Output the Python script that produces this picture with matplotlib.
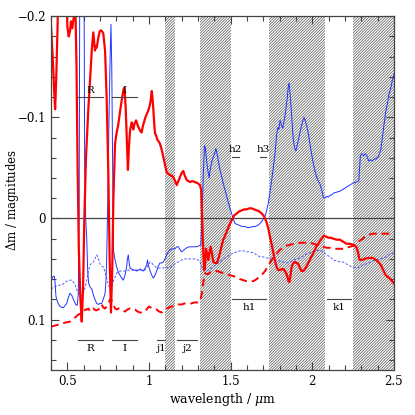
import matplotlib
matplotlib.use('Agg')
import matplotlib.pyplot as plt
from matplotlib.ticker import MultipleLocator, FuncFormatter

# red solid (thick)
red_wl = [0.400, 0.410, 0.418, 0.425, 0.432, 0.440, 0.447, 0.490, 0.500, 0.508, 0.516, 0.522, 0.530,
          0.540, 0.548, 0.556, 0.562, 0.570, 0.580, 0.588, 0.596, 0.604, 0.614, 0.628, 0.643, 0.651,
          0.659, 0.664, 0.669, 0.675, 0.680, 0.690, 0.698, 0.706, 0.713, 0.720, 0.731, 0.741, 0.751,
          0.759, 0.767, 0.775, 0.782, 0.792, 0.802, 0.812, 0.822, 0.833, 0.842, 0.847, 0.852, 0.857,
          0.864, 0.871, 0.877, 0.884, 0.894, 0.899, 0.904, 0.912, 0.921, 0.931, 0.945, 0.955, 0.962,
          0.969, 0.978, 0.986, 0.994, 1.002, 1.010, 1.017, 1.022, 1.027, 1.032, 1.037, 1.044, 1.051,
          1.060, 1.067, 1.078, 1.088, 1.098, 1.108, 1.118, 1.129, 1.140, 1.149, 1.160, 1.170, 1.180,
          1.190, 1.200, 1.210, 1.220, 1.231, 1.241, 1.251, 1.266, 1.282, 1.297, 1.312, 1.320, 1.326,
          1.333, 1.339, 1.344, 1.349, 1.356, 1.363, 1.370, 1.378, 1.386, 1.394, 1.405, 1.415, 1.425,
          1.435, 1.445, 1.455, 1.466, 1.476, 1.491, 1.506, 1.522, 1.537, 1.553, 1.568, 1.583, 1.598,
          1.614, 1.629, 1.645, 1.660, 1.675, 1.690, 1.701, 1.711, 1.721, 1.731, 1.741, 1.752, 1.762,
          1.772, 1.782, 1.792, 1.803, 1.813, 1.823, 1.833, 1.840, 1.847, 1.855, 1.860, 1.867, 1.874,
          1.884, 1.894, 1.905, 1.915, 1.925, 1.935, 1.946, 1.956, 1.966, 1.976, 1.991, 2.007, 2.022,
          2.037, 2.048, 2.058, 2.072, 2.085, 2.098, 2.114, 2.129, 2.150, 2.170, 2.190, 2.210, 2.230,
          2.250, 2.270, 2.280, 2.290, 2.305, 2.320, 2.340, 2.355, 2.370, 2.380, 2.390, 2.405, 2.420,
          2.435, 2.450, 2.465, 2.480, 2.490, 2.500]
red_dm = [-0.19, -0.16, -0.13, -0.108, -0.14, -0.19, -0.26, -0.26, -0.19, -0.18, -0.185, -0.195, -0.188,
          -0.20, -0.22, -0.15, -0.06, 0.03, 0.08, 0.102, 0.07, 0.00, -0.06, -0.107, -0.149, -0.17,
          -0.184, -0.175, -0.166, -0.170, -0.169, -0.179, -0.185, -0.186, -0.185, -0.183, -0.166, -0.117, -0.044,
          0.04, 0.093, 0.05, -0.02, -0.074, -0.085, -0.093, -0.105, -0.117, -0.126, -0.129, -0.124, -0.110,
          -0.08, -0.048, -0.07, -0.087, -0.095, -0.092, -0.088, -0.094, -0.097, -0.092, -0.087, -0.085, -0.091,
          -0.095, -0.100, -0.103, -0.106, -0.110, -0.116, -0.126, -0.118, -0.107, -0.094, -0.084, -0.082, -0.078,
          -0.076, -0.074, -0.068, -0.061, -0.053, -0.046, -0.044, -0.043, -0.042, -0.041, -0.037, -0.033, -0.037,
          -0.041, -0.045, -0.047, -0.042, -0.038, -0.037, -0.036, -0.037, -0.036, -0.035, -0.033, -0.028, 0.00,
          0.035, 0.051, 0.045, 0.030, 0.035, 0.041, 0.034, 0.028, 0.035, 0.043, 0.044, 0.044, 0.040,
          0.034, 0.027, 0.021, 0.017, 0.013, 0.007, 0.002, -0.003, -0.005, -0.007, -0.008, -0.009, -0.009,
          -0.010, -0.010, -0.009, -0.008, -0.007, -0.005, -0.003, 0.000, 0.004, 0.010, 0.018, 0.026, 0.034,
          0.042, 0.048, 0.051, 0.051, 0.050, 0.050, 0.052, 0.054, 0.057, 0.062, 0.063, 0.056, 0.048,
          0.044, 0.043, 0.044, 0.045, 0.049, 0.052, 0.052, 0.050, 0.047, 0.044, 0.039, 0.034, 0.029,
          0.025, 0.022, 0.020, 0.017, 0.018, 0.019, 0.019, 0.020, 0.021, 0.021, 0.023, 0.025, 0.025,
          0.026, 0.028, 0.033, 0.041, 0.041, 0.040, 0.039, 0.039, 0.039, 0.040, 0.041, 0.043, 0.046,
          0.051, 0.056, 0.058, 0.060, 0.062, 0.064]

# red dashed
redd_wl = [0.400, 0.445, 0.486, 0.516, 0.547, 0.567, 0.583, 0.598, 0.609, 0.619, 0.629, 0.639, 0.649,
           0.659, 0.675, 0.690, 0.700, 0.710, 0.720, 0.731, 0.741, 0.751, 0.759, 0.767, 0.775, 0.782,
           0.792, 0.802, 0.812, 0.822, 0.837, 0.853, 0.868, 0.884, 0.899, 0.914, 0.930, 0.945, 0.960,
           0.976, 0.990, 1.000, 1.010, 1.017, 1.032, 1.047, 1.062, 1.078, 1.093, 1.108, 1.124, 1.139,
           1.155, 1.170, 1.185, 1.200, 1.220, 1.240, 1.260, 1.280, 1.300, 1.312, 1.323, 1.333, 1.343,
           1.353, 1.363, 1.378, 1.394, 1.415, 1.435, 1.455, 1.476, 1.496, 1.517, 1.537, 1.558, 1.578,
           1.598, 1.619, 1.639, 1.660, 1.680, 1.695, 1.711, 1.726, 1.741, 1.752, 1.762, 1.782, 1.803,
           1.823, 1.843, 1.864, 1.884, 1.905, 1.925, 1.946, 1.966, 1.986, 2.007, 2.027, 2.048, 2.068,
           2.089, 2.109, 2.129, 2.150, 2.170, 2.190, 2.210, 2.230, 2.250, 2.270, 2.290, 2.310, 2.330,
           2.350, 2.370, 2.390, 2.420, 2.450, 2.480, 2.500]
redd_dm = [0.107, 0.105, 0.103, 0.102, 0.098, 0.095, 0.094, 0.093, 0.090, 0.090, 0.089, 0.092, 0.090,
           0.089, 0.091, 0.090, 0.088, 0.085, 0.088, 0.089, 0.087, 0.084, 0.081, 0.079, 0.083, 0.085,
           0.089, 0.090, 0.089, 0.089, 0.091, 0.092, 0.090, 0.089, 0.090, 0.090, 0.092, 0.093, 0.093,
           0.092, 0.089, 0.087, 0.088, 0.089, 0.090, 0.090, 0.092, 0.093, 0.091, 0.089, 0.088, 0.087,
           0.086, 0.085, 0.085, 0.085, 0.084, 0.084, 0.084, 0.083, 0.083, 0.082, 0.075, 0.063, 0.054,
           0.055, 0.055, 0.053, 0.052, 0.052, 0.053, 0.054, 0.055, 0.056, 0.057, 0.058, 0.060, 0.061,
           0.062, 0.062, 0.062, 0.060, 0.057, 0.055, 0.052, 0.048, 0.044, 0.041, 0.038, 0.035, 0.031,
           0.029, 0.027, 0.026, 0.025, 0.025, 0.024, 0.024, 0.024, 0.024, 0.025, 0.026, 0.027, 0.028,
           0.029, 0.029, 0.030, 0.030, 0.030, 0.030, 0.029, 0.028, 0.027, 0.025, 0.022, 0.020, 0.017,
           0.016, 0.015, 0.015, 0.015, 0.015, 0.015, 0.015]

# blue solid (thin)
blue_wl = [0.400, 0.410, 0.420, 0.425, 0.430, 0.440, 0.455, 0.466, 0.476, 0.486, 0.496, 0.506, 0.516,
           0.527, 0.537, 0.551, 0.560, 0.567, 0.572, 0.577, 0.601, 0.606, 0.612, 0.619, 0.624, 0.630,
           0.640, 0.650, 0.660, 0.669, 0.680, 0.690, 0.700, 0.710, 0.720, 0.731, 0.737, 0.741, 0.748,
           0.755, 0.762, 0.767, 0.772, 0.777, 0.782, 0.792, 0.802, 0.812, 0.822, 0.833, 0.843, 0.853,
           0.863, 0.868, 0.873, 0.878, 0.884, 0.894, 0.904, 0.914, 0.925, 0.935, 0.945, 0.955, 0.965,
           0.976, 0.986, 0.991, 0.996, 1.007, 1.017, 1.027, 1.037, 1.047, 1.057, 1.067, 1.078, 1.088,
           1.098, 1.108, 1.118, 1.129, 1.144, 1.159, 1.170, 1.180, 1.190, 1.200, 1.215, 1.231, 1.246,
           1.261, 1.276, 1.292, 1.307, 1.318, 1.325, 1.333, 1.340, 1.345, 1.353, 1.361, 1.369, 1.373,
           1.378, 1.386, 1.394, 1.402, 1.410, 1.418, 1.425, 1.435, 1.446, 1.456, 1.466, 1.476, 1.486,
           1.496, 1.506, 1.517, 1.527, 1.542, 1.558, 1.573, 1.588, 1.603, 1.619, 1.634, 1.649, 1.665,
           1.680, 1.695, 1.711, 1.721, 1.731, 1.741, 1.752, 1.762, 1.772, 1.782, 1.790, 1.796, 1.803,
           1.811, 1.819, 1.826, 1.833, 1.840, 1.847, 1.853, 1.858, 1.865, 1.870, 1.877, 1.884, 1.892,
           1.900, 1.907, 1.915, 1.925, 1.935, 1.943, 1.950, 1.958, 1.966, 1.976, 1.986, 1.996, 2.007,
           2.017, 2.027, 2.037, 2.048, 2.058, 2.068, 2.078, 2.088, 2.098, 2.109, 2.119, 2.129, 2.150,
           2.170, 2.190, 2.210, 2.230, 2.250, 2.270, 2.285, 2.295, 2.305, 2.315, 2.325, 2.335, 2.345,
           2.355, 2.365, 2.375, 2.390, 2.405, 2.420, 2.430, 2.440, 2.450, 2.460, 2.470, 2.480, 2.490,
           2.500]
blue_dm = [0.061, 0.058, 0.057, 0.064, 0.077, 0.083, 0.087, 0.088, 0.088, 0.086, 0.084, 0.078, 0.074,
           0.076, 0.080, 0.085, 0.086, 0.075, 0.00, -0.30, -0.30, -0.05, 0.00, 0.021, 0.050, 0.064,
           0.068, 0.070, 0.076, 0.080, 0.084, 0.085, 0.084, 0.084, 0.080, 0.074, 0.060, 0.038, -0.02,
           -0.10, -0.16, -0.192, -0.15, -0.06, 0.031, 0.041, 0.048, 0.053, 0.056, 0.059, 0.061, 0.056,
           0.048, 0.040, 0.036, 0.043, 0.049, 0.050, 0.051, 0.051, 0.052, 0.051, 0.050, 0.051, 0.052,
           0.049, 0.046, 0.041, 0.046, 0.052, 0.056, 0.059, 0.056, 0.052, 0.047, 0.044, 0.044, 0.043,
           0.040, 0.036, 0.033, 0.031, 0.030, 0.030, 0.028, 0.028, 0.031, 0.033, 0.031, 0.029, 0.028,
           0.028, 0.028, 0.028, 0.027, 0.026, 0.00, -0.045, -0.072, -0.070, -0.057, -0.047, -0.040, -0.046,
           -0.051, -0.057, -0.061, -0.064, -0.069, -0.063, -0.057, -0.048, -0.041, -0.034, -0.028, -0.022, -0.016,
           -0.010, -0.005, 0.001, 0.005, 0.006, 0.007, 0.008, 0.008, 0.009, 0.009, 0.008, 0.008, 0.007,
           0.005, 0.002, -0.002, -0.008, -0.015, -0.026, -0.038, -0.051, -0.064, -0.083, -0.090, -0.088, -0.097,
           -0.093, -0.089, -0.095, -0.101, -0.110, -0.119, -0.130, -0.134, -0.122, -0.110, -0.093, -0.078, -0.070,
           -0.067, -0.072, -0.078, -0.085, -0.092, -0.097, -0.100, -0.096, -0.092, -0.084, -0.074, -0.064, -0.054,
           -0.047, -0.041, -0.037, -0.034, -0.028, -0.021, -0.020, -0.022, -0.021, -0.023, -0.023, -0.025, -0.026,
           -0.027, -0.029, -0.031, -0.033, -0.035, -0.036, -0.037, -0.062, -0.064, -0.062, -0.064, -0.062, -0.057,
           -0.058, -0.057, -0.058, -0.059, -0.061, -0.068, -0.080, -0.093, -0.105, -0.113, -0.123, -0.128, -0.136,
           -0.142]

# blue dashed (thin)
blued_wl = [0.400, 0.415, 0.430, 0.445, 0.465, 0.480, 0.496, 0.512, 0.527, 0.542, 0.557, 0.567, 0.578,
            0.588, 0.598, 0.609, 0.619, 0.629, 0.639, 0.649, 0.659, 0.669, 0.680, 0.690, 0.700, 0.710,
            0.720, 0.731, 0.741, 0.751, 0.761, 0.771, 0.782, 0.792, 0.802, 0.812, 0.822, 0.837, 0.853,
            0.873, 0.894, 0.914, 0.935, 0.955, 0.976, 0.996, 1.007, 1.017, 1.027, 1.042, 1.057, 1.072,
            1.088, 1.103, 1.118, 1.134, 1.149, 1.165, 1.180, 1.200, 1.220, 1.240, 1.260, 1.280, 1.300,
            1.312, 1.325, 1.340, 1.353, 1.373, 1.394, 1.415, 1.435, 1.455, 1.476, 1.496, 1.517, 1.537,
            1.558, 1.578, 1.598, 1.619, 1.639, 1.660, 1.680, 1.700, 1.721, 1.741, 1.762, 1.782, 1.803,
            1.823, 1.843, 1.864, 1.884, 1.905, 1.925, 1.946, 1.966, 1.986, 2.007, 2.027, 2.048, 2.068,
            2.089, 2.109, 2.129, 2.150, 2.170, 2.190, 2.210, 2.230, 2.250, 2.270, 2.290, 2.310, 2.330,
            2.350, 2.370, 2.390, 2.420, 2.450, 2.480, 2.500]
blued_dm = [0.070, 0.068, 0.067, 0.066, 0.066, 0.064, 0.062, 0.061, 0.061, 0.064, 0.070, 0.074, 0.077,
            0.076, 0.074, 0.068, 0.061, 0.052, 0.046, 0.044, 0.043, 0.040, 0.036, 0.040, 0.045, 0.047,
            0.048, 0.053, 0.059, 0.065, 0.070, 0.067, 0.062, 0.058, 0.054, 0.053, 0.052, 0.052, 0.052,
            0.051, 0.051, 0.051, 0.051, 0.051, 0.051, 0.046, 0.043, 0.044, 0.046, 0.048, 0.049, 0.049,
            0.049, 0.048, 0.049, 0.048, 0.046, 0.044, 0.043, 0.041, 0.040, 0.040, 0.040, 0.040, 0.041,
            0.043, 0.048, 0.052, 0.052, 0.050, 0.048, 0.045, 0.043, 0.040, 0.038, 0.036, 0.034, 0.033,
            0.032, 0.032, 0.033, 0.033, 0.034, 0.036, 0.038, 0.038, 0.039, 0.040, 0.041, 0.042, 0.042,
            0.043, 0.044, 0.043, 0.041, 0.040, 0.039, 0.037, 0.035, 0.034, 0.033, 0.032, 0.031, 0.033,
            0.036, 0.038, 0.041, 0.042, 0.043, 0.043, 0.045, 0.047, 0.048, 0.049, 0.048, 0.046, 0.045,
            0.044, 0.042, 0.041, 0.040, 0.038, 0.035, 0.034]

# atmospheric windows that are hatched out
bad_lo = [1.10, 1.31, 1.735, 2.25]
bad_hi = [1.16, 1.50, 2.08, 2.55]

# filter bars: label, start, end, level
top_bands = [('R', 0.563, 0.72, -0.12), ('I', 0.775, 0.925, -0.12)]
bot_bands = [('R', 0.563, 0.72, 0.12), ('I', 0.775, 0.925, 0.12),
             ('j1', 1.047, 1.10, 0.12), ('j2', 1.17, 1.295, 0.12)]
mid_bands = [('h1', 1.51, 1.717, 0.08), ('k1', 2.09, 2.237, 0.08)]
small_bands = [('h2', 1.508, 1.549, -0.061), ('h3', 1.68, 1.717, -0.061)]

plt.rcParams['font.family'] = 'DejaVu Serif'
plt.rcParams['mathtext.fontset'] = 'dejavuserif'
plt.rcParams['hatch.linewidth'] = 0.5
plt.rcParams['hatch.color'] = '#555555'

fig = plt.figure(figsize=(4.15, 4.15), dpi=100)
ax = fig.add_axes([0.123, 0.108, 0.826, 0.853])

for lo, hi in zip(bad_lo, bad_hi):
    ax.axvspan(lo, hi, facecolor='none', edgecolor='#555555', hatch='/' * 12, lw=0)

ax.axhline(0, color='#444444', lw=0.9)

ax.plot(blued_wl, blued_dm, color='#3344ff', lw=0.6, dashes=(3, 2))
ax.plot(blue_wl, blue_dm, color='#2233ff', lw=0.7)
ax.plot(redd_wl, redd_dm, color='red', lw=1.4, dashes=(4, 2.5))
ax.plot(red_wl, red_dm, color='red', lw=1.6)

gray = '#444444'
for name, a, b, lev in top_bands:
    ax.plot([a, b], [lev, lev], color=gray, lw=0.8)
    ax.text((a + b) / 2, lev - 0.002, name, ha='center', va='bottom', fontsize=7.5)
for name, a, b, lev in bot_bands + mid_bands:
    ax.plot([a, b], [lev, lev], color=gray, lw=0.8)
    ax.text((a + b) / 2, lev + 0.004, name, ha='center', va='top', fontsize=7.5)
for name, a, b, lev in small_bands:
    ax.plot([a, b], [lev, lev], color=gray, lw=0.8)
    ax.text((a + b) / 2, lev - 0.003, name, ha='center', va='bottom', fontsize=7.5)

ax.set_xlim(0.4, 2.5)
ax.set_ylim(0.15, -0.2)
ax.xaxis.set_major_locator(MultipleLocator(0.5))
ax.xaxis.set_minor_locator(MultipleLocator(0.1))
ax.yaxis.set_major_locator(MultipleLocator(0.1))
ax.yaxis.set_minor_locator(MultipleLocator(0.02))

def fmt(v, pos):
    s = '%g' % round(v, 3)
    return s.replace('-', '\u2212')

ax.xaxis.set_major_formatter(FuncFormatter(fmt))
ax.yaxis.set_major_formatter(FuncFormatter(fmt))
ax.tick_params(which='both', direction='in', top=True, right=True, colors=gray, labelcolor='black',
               labelsize=8.5)
ax.tick_params(which='major', length=6, width=0.8)
ax.tick_params(which='minor', length=3.5, width=0.8)
for sp in ax.spines.values():
    sp.set_color(gray)
    sp.set_linewidth(0.9)

ax.set_xlabel(r'wavelength / $\mu$m', fontsize=9)
ax.set_ylabel(r'$\Delta$m / magnitudes', fontsize=8.5)
ax.xaxis.set_label_coords(0.5, -0.06)
ax.yaxis.set_label_coords(-0.088, 0.48)

fig.savefig('out.png', dpi=100)
